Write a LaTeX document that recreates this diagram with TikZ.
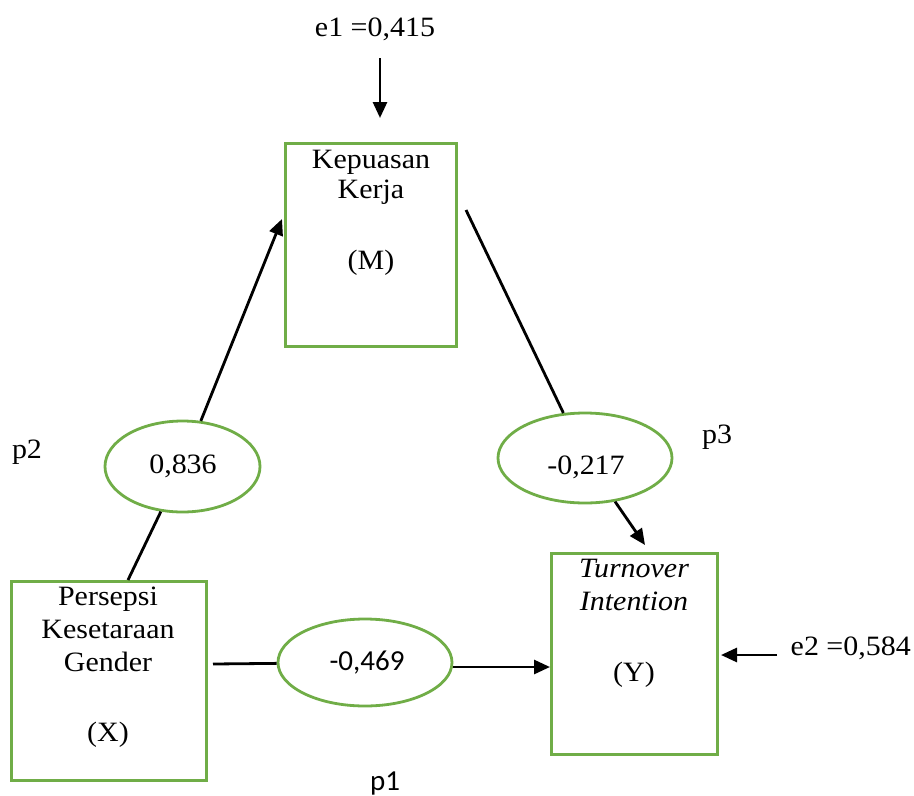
\documentclass[tikz,border=0pt]{standalone}
\usepackage{fontspec}
\setmainfont{Liberation Serif}[FakeStretch=1.07]
\newfontfamily\calib{Carlito}
\usetikzlibrary{shapes.geometric,arrows.meta}
\definecolor{boxgreen}{RGB}{112,173,71}
\begin{document}
\begin{tikzpicture}[x=1pt,y=-1pt,
  box/.style={draw=boxgreen,line width=3pt,inner sep=0pt,rectangle},
  oval/.style={ellipse,draw=boxgreen,line width=2.8pt,inner sep=0pt},
  txt/.style={anchor=base,inner sep=0pt,font=\fontsize{28}{32}\selectfont},
  stxt/.style={anchor=base,inner sep=0pt,font=\calib\fontsize{29}{34}\selectfont},
  conn/.style={line width=2.8pt},
  arr/.style={conn,-{Triangle[length=16pt,width=14pt]}}]
\useasboundingbox (0,0) rectangle (914,796);

% boxes
\node[box,minimum width=171pt,minimum height=203pt] (M) at (370.5,244.5) {};
\node[box,minimum width=195pt,minimum height=199pt] (X) at (108.5,680.5) {};
\node[box,minimum width=166pt,minimum height=201pt] (Y) at (634,653.5) {};

% box texts
\node[txt] (m1) at (371,168) {Kepuasan};
\node[txt] (m2) at (371,198) {Kerja};
\node[txt] (m3) at (371,269) {(M)};
\node[txt] (x1) at (108,605) {Persepsi};
\node[txt] (x2) at (108,638) {Kesetaraan};
\node[txt] (x3) at (108,671) {Gender};
\node[txt] (x4) at (108,741) {(X)};
\node[txt] (y1) at (634,577) {\itshape Turnover};
\node[txt] (y2) at (634,610) {\itshape Intention};
\node[txt] (y3) at (634,681) {(Y)};

% ellipses
\node[oval,minimum width=155pt,minimum height=91pt] (E1) at (182.5,466.5) {};
\node[oval,minimum width=174pt,minimum height=90pt] (E2) at (585,458) {};
\node[oval,minimum width=174pt,minimum height=87pt] (E3) at (365,662.5) {};
\node[txt] (t1) at (183,473) {0,836};
\node[txt] (t2) at (586,474) {-0,217};
\node[stxt] (t3) at (367,670) {-0,469};

% labels
\node[txt] (e1) at (375,36) {e1 =0,415};
\node[txt,anchor=base east] (e2) at (911,655) {e2 =0,584};
\node[txt] (p2) at (27,458) {p2};
\node[txt] (p3) at (717,443) {p3};
\node[stxt] (p1) at (385,790) {p1};

% coordinates
\coordinate (e1s) at (380,58);
\coordinate (e1t) at (380,118);
\coordinate (e2s) at (777,655);
\coordinate (e2t) at (721,655);
\coordinate (xa) at (128,580);
\coordinate (ma) at (282,219);
\coordinate (mb) at (466,210);
\coordinate (ya) at (645,545);
\coordinate (xb) at (213,664);
\coordinate (yb) at (550,667);

% connectors
\draw[arr] (e1s) -- (e1t);
\draw[arr] (e2s) -- (e2t);
\draw[conn] (xa) -- (E1);
\draw[arr] (E1) -- (ma);
\draw[conn] (mb) -- (E2);
\draw[arr] (E2) -- (ya);
\draw[conn] (xb) -- (E3);
\draw[arr] (E3.east |- yb) -- (yb);
\end{tikzpicture}
\end{document}
